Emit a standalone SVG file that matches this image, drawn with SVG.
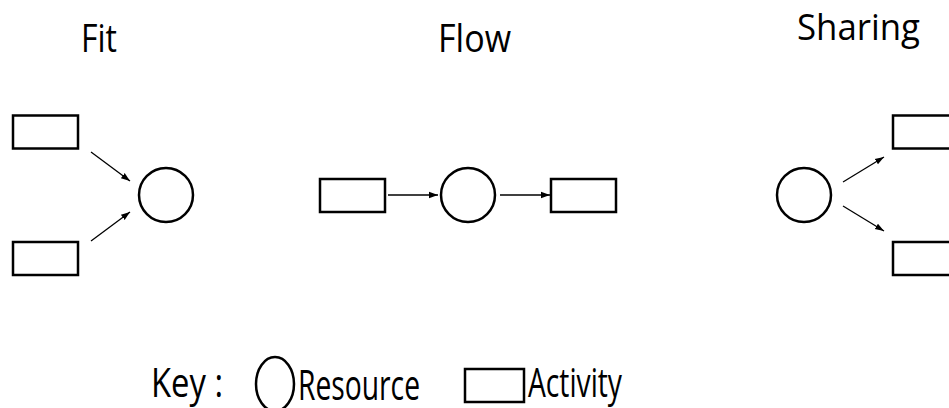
<svg xmlns="http://www.w3.org/2000/svg" width="949" height="408" viewBox="0 0 949 408">
<style>
.s{fill:#fff;stroke:#000;stroke-width:2.5}
.t{font-family:"Open Sans","Noto Sans",sans-serif;fill:#000}
.c line{stroke:#000;stroke-width:1.3;marker-end:url(#ah)}
</style>
<defs>
<marker id="ah" viewBox="0 0 10 10" refX="10" refY="5" markerWidth="9" markerHeight="9" markerUnits="userSpaceOnUse" orient="auto">
<path d="M0,1.5 L10,5 L0,8.5 z" fill="#000"/>
</marker>
</defs>
<rect width="949" height="408" fill="#fff"/>
<text class="t" x="81" y="52" font-size="38" textLength="36" lengthAdjust="spacingAndGlyphs">Fit</text>
<text class="t" x="438" y="52" font-size="38" textLength="73" lengthAdjust="spacingAndGlyphs">Flow</text>
<text class="t" x="797" y="40" font-size="36" textLength="123" lengthAdjust="spacingAndGlyphs">Sharing</text>
<g id="fit-a1"><rect class="s" x="13" y="115.5" width="65" height="33"/></g>
<g id="fit-a2"><rect class="s" x="13" y="242" width="65" height="33"/></g>
<g id="fit-r"><circle class="s" cx="166" cy="195" r="27"/></g>
<g id="flow-a1"><rect class="s" x="320" y="179" width="65" height="33"/></g>
<g id="flow-r"><circle class="s" cx="468" cy="195" r="27"/></g>
<g id="flow-a2"><rect class="s" x="551" y="179" width="65" height="33"/></g>
<g id="share-r"><circle class="s" cx="804" cy="195" r="27"/></g>
<g id="share-a1"><rect class="s" x="893" y="115.5" width="65" height="33"/></g>
<g id="share-a2"><rect class="s" x="893" y="242" width="65" height="33"/></g>
<g class="c" id="connectors">
<line x1="91" y1="152" x2="130" y2="181"/>
<line x1="91" y1="241" x2="130" y2="212"/>
<line x1="388" y1="195" x2="438" y2="195"/>
<line x1="500" y1="195" x2="550" y2="195"/>
<line x1="843" y1="182" x2="884" y2="157"/>
<line x1="843" y1="206" x2="884" y2="231"/>
</g>
<g id="key">
<text class="t" x="151" y="397" font-size="40" textLength="72" lengthAdjust="spacingAndGlyphs">Key :</text>
<ellipse class="s" cx="275" cy="384" rx="19" ry="27" stroke-width="2"/>
<text class="t" x="298" y="400" font-size="42" textLength="122" lengthAdjust="spacingAndGlyphs">Resource</text>
<rect class="s" x="465" y="369" width="59" height="33" stroke-width="2"/>
<text class="t" x="528" y="397" font-size="40" textLength="94" lengthAdjust="spacingAndGlyphs">Activity</text>
</g>
</svg>
